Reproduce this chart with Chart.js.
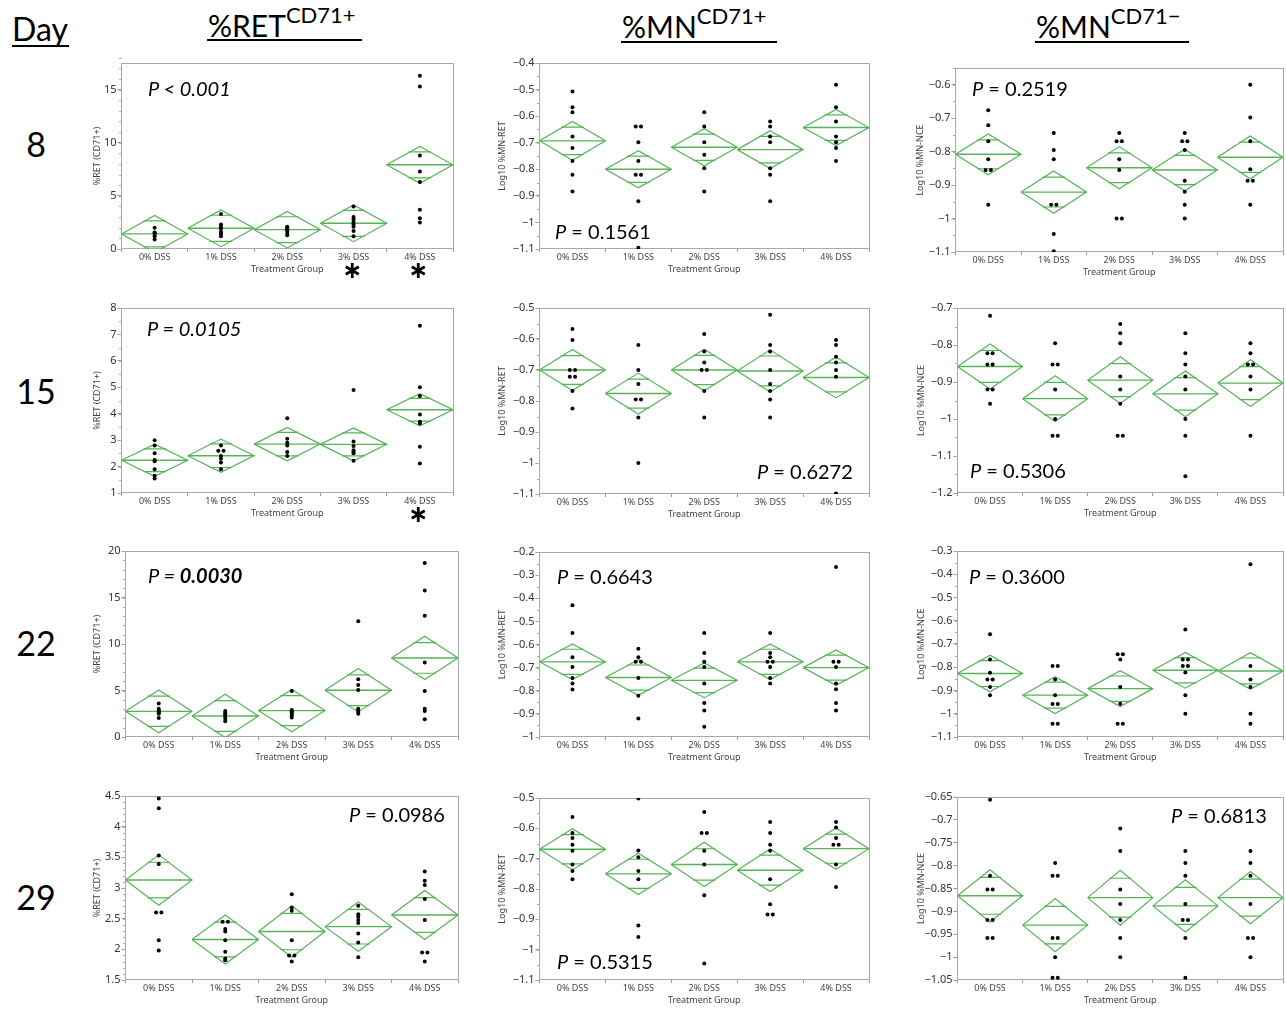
<!DOCTYPE html>
<html><head><meta charset="utf-8">
<script src="https://cdn.jsdelivr.net/npm/chart.js@4.4.1/dist/chart.umd.min.js"></script>
<style>
html,body{margin:0;padding:0;background:#fff}
body{width:1286px;height:1009px;position:relative;overflow:hidden}
canvas.pn{position:absolute}
.t{position:absolute;white-space:nowrap;line-height:1;color:#000;font-family:Lato,'Noto Sans',sans-serif}
.ul{position:absolute;height:2px;background:#000}
</style></head><body>
<script>
// ---------- data ----------
const categories = ['0% DSS', '1% DSS', '2% DSS', '3% DSS', '4% DSS'];
const dayLabels = ['8', '15', '22', '29'];
const xAxisTitle = 'Treatment Group';
const yTitleRet = '%RET (CD71+)';
const yTitleMnRet = 'Log10 %MN-RET';
const yTitleMnNce = 'Log10 %MN-NCE';

// axis arrays: [min, max, major step, minor step]
// Day 8
const d8RetValues = [[2.0,1.55,1.5,1.4,1.2,0.9],[3.3,2.3,2.1,1.9,1.6,1.5,1.4,1.2],[2.1,2.0,1.9,1.8,1.7,1.5,1.3],[4.0,3.0,2.8,2.5,2.3,2.1,1.7,1.2],[16.3,15.3,8.8,7.3,6.3,3.7,2.9,2.5]];
const d8RetMeans = [1.42,1.95,1.82,2.42,7.92];
const d8RetCI = [1.73,1.73,1.72,1.73,1.73];
const d8RetAxis = [0,17.5,5,1];
const d8RetP = ['P', '< 0.001'];

const d8MnRetValues = [[-0.507,-0.567,-0.585,-0.677,-0.72,-0.769,-0.821,-0.884],[-0.639,-0.639,-0.698,-0.769,-0.821,-0.821,-0.92,-1.095],[-0.585,-0.639,-0.698,-0.745,-0.796,-0.884],[-0.62,-0.639,-0.677,-0.698,-0.796,-0.821,-0.92],[-0.482,-0.567,-0.62,-0.677,-0.698,-0.72,-0.769]];
const d8MnRetMeans = [-0.693,-0.800,-0.717,-0.726,-0.643];
const d8MnRetCI = [0.073,0.070,0.070,0.071,0.068];
const d8MnRetAxis = [-1.1,-0.4,0.1,0.05];
const d8MnRetP = ['P', '= 0.1561'];

const d8MnNceValues = [[-0.676,-0.721,-0.769,-0.823,-0.855,-0.855,-0.959],[-0.744,-0.795,-0.823,-0.959,-0.959,-1.046,-1.098],[-0.744,-0.769,-0.769,-0.823,-0.855,-1.0,-1.0],[-0.744,-0.769,-0.769,-0.795,-0.887,-0.92,-0.959,-1.0],[-0.6,-0.698,-0.769,-0.853,-0.887,-0.887,-0.959]];
const d8MnNceMeans = [-0.808,-0.921,-0.848,-0.855,-0.817];
const d8MnNceCI = [0.061,0.063,0.063,0.062,0.064];
const d8MnNceAxis = [-1.1,-0.55,0.1,0.05];
const d8MnNceP = ['P', '= 0.2519'];

// Day 15
const d15RetValues = [[3.0,2.8,2.5,2.25,2.2,1.9,1.65,1.55],[2.8,2.6,2.6,2.4,2.3,2.15,1.9],[3.83,3.05,2.9,2.8,2.55,2.4],[4.9,2.95,2.78,2.62,2.55,2.5,2.22],[7.33,5.0,4.67,3.97,3.7,3.63,2.75,2.12]];
const d15RetMeans = [2.24,2.41,2.85,2.84,4.15];
const d15RetCI = [0.61,0.63,0.63,0.62,0.61];
const d15RetAxis = [1,8,1,0.5];
const d15RetP = ['P', '= 0.0105'];

const d15MnRetValues = [[-0.568,-0.603,-0.70,-0.70,-0.722,-0.722,-0.768,-0.824],[-0.619,-0.70,-0.745,-0.795,-0.795,-0.853,-1.0],[-0.584,-0.64,-0.676,-0.70,-0.70,-0.768,-0.853],[-0.522,-0.619,-0.64,-0.70,-0.745,-0.768,-0.795,-0.853],[-0.603,-0.619,-0.657,-0.676,-0.70,-0.722,-1.098]];
const d15MnRetMeans = [-0.700,-0.776,-0.700,-0.703,-0.724];
const d15MnRetCI = [0.066,0.066,0.067,0.068,0.066];
const d15MnRetAxis = [-1.1,-0.5,0.1,0.05];
const d15MnRetP = ['P', '= 0.6272'];

const d15MnNceValues = [[-0.721,-0.822,-0.822,-0.853,-0.853,-0.92,-0.92,-0.959],[-0.795,-0.853,-0.853,-0.92,-1.0,-1.045,-1.045],[-0.743,-0.768,-0.795,-0.885,-0.92,-0.959,-1.045,-1.045],[-0.768,-0.822,-0.853,-0.885,-0.92,-1.0,-1.045,-1.155],[-0.795,-0.822,-0.853,-0.853,-0.885,-0.92,-1.045]];
const d15MnNceMeans = [-0.858,-0.945,-0.895,-0.932,-0.903];
const d15MnNceCI = [0.061,0.062,0.063,0.062,0.063];
const d15MnNceAxis = [-1.2,-0.7,0.1,0.05];
const d15MnNceP = ['P', '= 0.5306'];

// Day 22
const d22RetValues = [[3.6,3.05,2.85,2.7,2.6,2.5,2.05],[2.8,2.6,2.45,2.25,2.0,1.7],[4.95,2.9,2.75,2.6,2.5,2.3,2.1],[12.45,6.2,5.6,5.05,3.05,2.9,2.7,2.5],[18.7,15.75,13.05,8.0,4.95,3.05,2.8,1.9]];
const d22RetMeans = [2.76,2.26,2.84,5.03,8.5];
const d22RetCI = [2.3,2.33,2.28,2.33,2.33];
const d22RetAxis = [0,20,5,1];
const d22RetP = ['P =', '0.0030'];

const d22MnRetValues = [[-0.43,-0.55,-0.655,-0.697,-0.745,-0.769,-0.795],[-0.618,-0.655,-0.675,-0.675,-0.745,-0.822,-0.92],[-0.55,-0.637,-0.675,-0.697,-0.769,-0.853,-0.885,-0.956],[-0.55,-0.637,-0.655,-0.675,-0.675,-0.697,-0.745,-0.769],[-0.265,-0.675,-0.675,-0.697,-0.769,-0.793,-0.853,-0.885]];
const d22MnRetMeans = [-0.675,-0.743,-0.755,-0.675,-0.700];
const d22MnRetCI = [0.077,0.077,0.075,0.077,0.076];
const d22MnRetAxis = [-1,-0.2,0.1,0.05];
const d22MnRetP = ['P', '= 0.6643'];

const d22MnNceValues = [[-0.658,-0.767,-0.824,-0.853,-0.853,-0.885,-0.92],[-0.795,-0.795,-0.853,-0.92,-0.958,-0.958,-1.043,-1.043],[-0.744,-0.744,-0.767,-0.885,-0.957,-1.043,-1.043],[-0.638,-0.767,-0.767,-0.795,-0.795,-0.823,-0.92,-1.0],[-0.357,-0.795,-0.853,-0.885,-1.0,-1.043]];
const d22MnNceMeans = [-0.827,-0.920,-0.892,-0.813,-0.816];
const d22MnNceCI = [0.079,0.079,0.077,0.077,0.079];
const d22MnNceAxis = [-1.1,-0.3,0.1,0.05];
const d22MnNceP = ['P', '= 0.3600'];

// Day 29
const d29RetValues = [[4.46,4.3,3.53,3.39,2.6,2.6,2.15,1.98],[2.45,2.45,2.33,2.29,2.15,1.96,1.85,1.82],[2.9,2.68,2.63,2.15,1.9,1.9,1.8],[2.71,2.57,2.53,2.48,2.43,2.26,2.11,1.87],[3.27,3.12,3.05,2.82,2.48,1.95,1.95,1.8]];
const d29RetMeans = [3.13,2.16,2.29,2.37,2.56];
const d29RetCI = [0.41,0.40,0.42,0.40,0.40];
const d29RetAxis = [1.5,4.5,0.5,0.1];
const d29RetP = ['P', '= 0.0986'];

const d29MnRetValues = [[-0.563,-0.615,-0.632,-0.654,-0.674,-0.719,-0.741,-0.768],[-0.502,-0.673,-0.695,-0.741,-0.768,-0.92,-0.958],[-0.546,-0.615,-0.615,-0.674,-0.719,-0.821,-1.046],[-0.579,-0.615,-0.654,-0.674,-0.768,-0.85,-0.884,-0.884],[-0.579,-0.597,-0.632,-0.654,-0.654,-0.719,-0.793]];
const d29MnRetMeans = [-0.669,-0.750,-0.719,-0.738,-0.667];
const d29MnRetCI = [0.068,0.068,0.073,0.070,0.068];
const d29MnRetAxis = [-1.1,-0.5,0.1,0.05];
const d29MnRetP = ['P', '= 0.5315'];

const d29MnNceValues = [[-0.656,-0.822,-0.852,-0.852,-0.919,-0.919,-0.958,-0.958],[-0.794,-0.822,-0.822,-0.958,-0.958,-1.0,-1.045,-1.045],[-0.719,-0.768,-0.852,-0.884,-0.919,-0.958,-1.0],[-0.768,-0.794,-0.822,-0.884,-0.919,-0.919,-0.958,-1.045],[-0.768,-0.794,-0.822,-0.884,-0.958,-0.958,-1.0]];
const d29MnNceMeans = [-0.866,-0.930,-0.870,-0.888,-0.870];
const d29MnNceCI = [0.057,0.058,0.060,0.057,0.057];
const d29MnNceAxis = [-1.05,-0.65,0.05,0];
const d29MnNceP = ['P', '= 0.6813'];

// ---------- layout (positions only) ----------
const panels = [
  {v:d8RetValues, m:d8RetMeans, ci:d8RetCI, ax:d8RetAxis, yt:yTitleRet, p:d8RetP, ps:'italic', box:[121,63,453,249,97], pp:[148,96]},
  {v:d8MnRetValues, m:d8MnRetMeans, ci:d8MnRetCI, ax:d8MnRetAxis, yt:yTitleMnRet, p:d8MnRetP, ps:'p', box:[539,63,869,249,502], pp:[555,239]},
  {v:d8MnNceValues, m:d8MnNceMeans, ci:d8MnNceCI, ax:d8MnNceAxis, yt:yTitleMnNce, p:d8MnNceP, ps:'p', box:[955,68,1283,252,920], pp:[972,96]},
  {v:d15RetValues, m:d15RetMeans, ci:d15RetCI, ax:d15RetAxis, yt:yTitleRet, p:d15RetP, ps:'italic', box:[121,308,453,493,97], pp:[147,336]},
  {v:d15MnRetValues, m:d15MnRetMeans, ci:d15MnRetCI, ax:d15MnRetAxis, yt:yTitleMnRet, p:d15MnRetP, ps:'p', box:[539,308,869,494,502], pp:[757,479]},
  {v:d15MnNceValues, m:d15MnNceMeans, ci:d15MnNceCI, ax:d15MnNceAxis, yt:yTitleMnNce, p:d15MnNceP, ps:'p', box:[957,308,1283,493,921], pp:[970,478]},
  {v:d22RetValues, m:d22RetMeans, ci:d22RetCI, ax:d22RetAxis, yt:yTitleRet, p:d22RetP, ps:'bold', box:[125,551,458,737,97], pp:[148,583]},
  {v:d22MnRetValues, m:d22MnRetMeans, ci:d22MnRetCI, ax:d22MnRetAxis, yt:yTitleMnRet, p:d22MnRetP, ps:'p', box:[539,552,869,737,502], pp:[557,584]},
  {v:d22MnNceValues, m:d22MnNceMeans, ci:d22MnNceCI, ax:d22MnNceAxis, yt:yTitleMnNce, p:d22MnNceP, ps:'p', box:[957,551,1283,737,921], pp:[969,584]},
  {v:d29RetValues, m:d29RetMeans, ci:d29RetCI, ax:d29RetAxis, yt:yTitleRet, p:d29RetP, ps:'p', box:[125,796,458,980,97], pp:[349,822]},
  {v:d29MnRetValues, m:d29MnRetMeans, ci:d29MnRetCI, ax:d29MnRetAxis, yt:yTitleMnRet, p:d29MnRetP, ps:'p', box:[539,798,869,980,502], pp:[557,969]},
  {v:d29MnNceValues, m:d29MnNceMeans, ci:d29MnNceCI, ax:d29MnNceAxis, yt:yTitleMnNce, p:d29MnNceP, ps:'p', box:[957,797,1283,980,921], pp:[1171,823]}
];

const GREEN = '#56b356';
Chart.defaults.font.family = "'Noto Sans', sans-serif";

const framePlugin = {
  id: 'frame',
  beforeDatasetsDraw(chart, args, opts) {
    const {ctx, chartArea: a} = chart;
    const y = chart.scales.y;
    ctx.save();
    ctx.strokeStyle = '#a9a9a9';
    ctx.lineWidth = 1;
    ctx.strokeRect(Math.round(a.left) - 0.5, Math.round(a.top) + 0.5, Math.round(a.right - a.left), Math.round(a.bottom - a.top) - 1);
    if (opts.minor) {
      const n = Math.round((y.max - y.min) / opts.minor);
      ctx.strokeStyle = '#aaaaaa';
      ctx.beginPath();
      for (let i = 0; i <= n; i++) {
        const p = Math.round(y.getPixelForValue(y.min + i * opts.minor)) + 0.5;
        ctx.moveTo(a.left - 2.5, p); ctx.lineTo(a.left, p);
      }
      ctx.stroke();
    }
    ctx.restore();
  }
};

function fmt(v) {
  return String(Math.round(v * 1000) / 1000).replace('-', '\u2212');
}

function pointsFor(vals, i, tol) {
  return vals.map((v, k) => {
    const same = [];
    vals.forEach((w, j) => { if (Math.abs(w - v) < tol) same.push(j); });
    const r = same.indexOf(k);
    return {x: i + 0.5 + (r - (same.length - 1) / 2) * 0.08, y: v};
  });
}

function lineDs(data, w) {
  return {data, showLine: true, pointRadius: 0, borderColor: GREEN, borderWidth: w || 1.2, fill: false};
}

function place(html, left, baseline, size, extra) {
  const d = document.createElement('div');
  d.className = 't';
  d.style.left = left + 'px';
  d.style.top = (baseline - 0.887 * size) + 'px';
  d.style.fontSize = size + 'px';
  if (extra) Object.assign(d.style, extra);
  d.innerHTML = html;
  document.body.appendChild(d);
  return d;
}
function uline(x1, x2, y) {
  const d = document.createElement('div');
  d.className = 'ul';
  d.style.left = x1 + 'px'; d.style.width = (x2 - x1) + 'px'; d.style.top = y + 'px';
  document.body.appendChild(d);
}

panels.forEach((pn, idx) => {
  const [L, T, R, B, tx] = pn.box;
  const [ymin, ymax, step, minor] = pn.ax;
  const W = L - tx + 4.5;
  const padTop = 8, xH = 25;
  const cv = document.createElement('canvas');
  cv.className = 'pn';
  const cw = Math.round(W + (R - L) + 3);
  const ch = padTop + (B - T) + xH + 2;
  cv.width = cw; cv.height = ch;
  cv.style.left = (L - W) + 'px';
  cv.style.top = (T - padTop) + 'px';
  cv.style.width = cw + 'px'; cv.style.height = ch + 'px';
  document.body.appendChild(cv);

  const tol = (ymax - ymin) * 0.002;
  const pts = [];
  pn.v.forEach((vals, i) => pointsFor(vals, i, tol).forEach(p => pts.push(p)));
  const ds = [{data: pts, showLine: false, pointRadius: 2, pointBackgroundColor: '#000', pointBorderWidth: 0}];
  pn.m.forEach((m, i) => {
    const h = pn.ci[i];
    const o = h / Math.SQRT2;
    ds.push(lineDs([{x:i,y:m},{x:i+0.5,y:m+h},{x:i+1,y:m},{x:i+0.5,y:m-h},{x:i,y:m}]));
    ds.push(lineDs([{x:i,y:m},{x:i+1,y:m}], 1.4));
    ds.push(lineDs([{x:i+0.33,y:m+o},{x:i+0.67,y:m+o}]));
    ds.push(lineDs([{x:i+0.33,y:m-o},{x:i+0.67,y:m-o}]));
  });

  new Chart(cv, {
    type: 'scatter',
    data: {labels: categories, datasets: ds},
    options: {
      responsive: false, animation: false, devicePixelRatio: 1, events: [],
      layout: {padding: {top: padTop, left: 0, right: 3, bottom: 2}},
      plugins: {legend: {display: false}, tooltip: {enabled: false}, frame: {minor: minor}},
      scales: {
        x: {type: 'linear', min: 0, max: 5, display: false},
        xc: {type: 'category', labels: categories, position: 'bottom', offset: true,
          grid: {offset: true, drawOnChartArea: false, tickLength: 3, color: '#999'},
          border: {display: false},
          ticks: {color: '#444', font: {size: 9, lineHeight: 1}, padding: 1, maxRotation: 0, autoSkip: false},
          title: {display: true, text: xAxisTitle, color: '#444', font: {size: 9, lineHeight: 1}, padding: {top: 0, bottom: 0}},
          afterFit: s => { s.height = xH; }},
        y: {type: 'linear', position: 'left', min: ymin, max: ymax,
          ticks: {stepSize: step, includeBounds: false, callback: fmt, color: '#333', font: {size: 11, lineHeight: 1}, padding: 1},
          grid: {drawOnChartArea: false, tickLength: 4, color: '#999'},
          border: {display: false},
          title: {display: true, text: pn.yt, color: '#444', font: {size: 9, lineHeight: 1}, padding: {top: 0, bottom: 0}},
          afterFit: s => { s.width = W; }}
      }
    },
    plugins: [framePlugin]
  });

  // P value label
  const [px, pb] = pn.pp;
  let html;
  if (pn.ps === 'italic') html = '<i>' + pn.p[0] + ' ' + pn.p[1] + '</i>';
  else if (pn.ps === 'bold') html = '<i>' + pn.p[0] + ' </i><b><i>' + pn.p[1] + '</i></b>';
  else html = '<i>' + pn.p[0] + '</i> ' + pn.p[1];
  place(html, px, pb, 20);
});

// headers
place('Day', 12, 41, 32);
uline(12, 69, 45);
place('%RET<span style="font-size:22px;position:relative;top:-14px">CD71+</span>', 208, 37, 30);
uline(207, 362, 39);
place('%MN<span style="font-size:22px;position:relative;top:-14px">CD71+</span>', 622, 38, 30);
uline(621, 777, 41);
place('%MN<span style="font-size:22px;position:relative;top:-14px">CD71\u2212</span>', 1036, 38, 30);
uline(1035, 1189, 41);

// day labels
const dayBaselines = [157, 404, 656, 910];
dayLabels.forEach((d, i) => place(d, 6, dayBaselines[i], 34, {width: '60px', textAlign: 'center'}));

// significance asterisks
function star(cx, cy) {
  const d = document.createElement('div');
  d.className = 't';
  d.textContent = '\u2217';
  Object.assign(d.style, {left: (cx - 20) + 'px', width: '40px', textAlign: 'center', top: (cy - 12) + 'px', fontSize: '24px', fontWeight: 'bold', fontFamily: "'DejaVu Sans', sans-serif"});
  document.body.appendChild(d);
}
star(352, 270); star(418, 270); star(418, 514);
</script>
</body></html>
